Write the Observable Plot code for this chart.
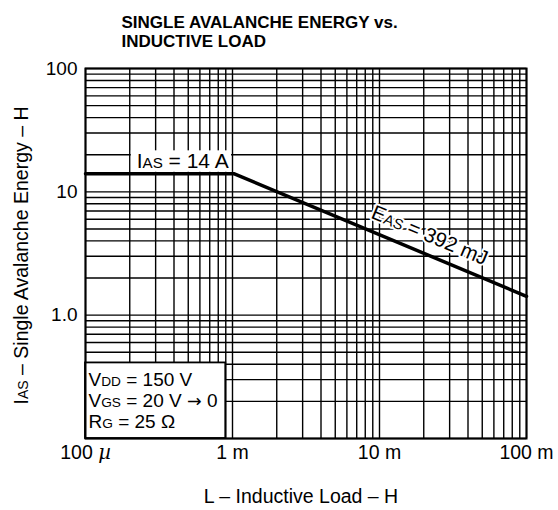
<!DOCTYPE html>
<html><head><meta charset="utf-8">
<script src="https://cdn.jsdelivr.net/npm/d3@7"></script>
<script src="https://cdn.jsdelivr.net/npm/@observablehq/plot@0.6"></script>
<style>body{margin:0;background:#fff}</style>
</head><body><div id="chart"></div>
<script>
// ---- data ----
const inductance = [1e-4, 1.03e-3, 1e-1];   // L (H)
const current = [14, 14, 1.42];            // IAS (A)
const xTickValues = [1e-4, 1e-3, 1e-2, 1e-1];
const xTickLabels = ["100 \u00b5", "1 m", "10 m", "100 m"];
const yTickValues = [1, 10, 100];
const yTickLabels = ["1.0", "10", "100"];
const gridMultiples = [1, 2, 3, 4, 5, 6, 7, 8, 9];
const xDecades = [1e-4, 1e-3, 1e-2];
const yDecades = [0.1, 1, 10];
const conditions = ["V_DD_ = 150 V", "V_GS_ = 20 V \u2192 0", "R_G_ = 25 \u03a9"];
const titleLines = ["SINGLE AVALANCHE ENERGY vs.", "INDUCTIVE LOAD"];
const xLabel = "L \u2013 Inductive Load \u2013 H";
const yLabel = "I_AS_ \u2013 Single Avalanche Energy \u2013 H";
const iasLabel = "I_AS_ = 14 A";
const easLabel = "E_AS_ = 392 mJ";
// annotation anchors (data coordinates)
const condBox = [{x1: 1e-4, x2: 9e-4, y1: 0.1, y2: 0.41}];
const iasBox = [{x1: 2.05e-4, x2: 0.985e-3, y1: 14.4, y2: 21.5}];
const iasAnchor = [{x: 2e-4, y: 14}];
const easAnchor = [{x: 0.0195, y: 3.22}];

const xGrid = xDecades.flatMap(d => gridMultiples.map(m => d * m)).concat([1e-1]);
const yGrid = yDecades.flatMap(d => gridMultiples.map(m => d * m)).concat([100]);
const rows = inductance.map((x, i) => ({x, y: current[i]}));

const FONT = "Liberation Sans, Arial, Helvetica, sans-serif";
const fs = 19;

const chart = Plot.plot({
  width: 558,
  height: 510,
  marginLeft: 85,
  marginRight: 32,
  marginTop: 68,
  marginBottom: 72,
  style: {fontFamily: FONT, background: "white"},
  x: {type: "log", domain: [1e-4, 1e-1], axis: null},
  y: {type: "log", domain: [0.1, 100], axis: null},
  marks: [
    Plot.ruleX(xGrid, {stroke: "black", strokeWidth: 1.4}),
    Plot.ruleY(yGrid, {stroke: "black", strokeWidth: 1.4}),
    Plot.rect(condBox, {x1: "x1", x2: "x2", y1: "y1", y2: "y2", fill: "white", stroke: "black", strokeWidth: 1.8}),
    Plot.rect(iasBox, {x1: "x1", x2: "x2", y1: "y1", y2: "y2", fill: "white"}),
    Plot.line(rows, {x: "x", y: "y", stroke: "black", strokeWidth: 3.5}),
    Plot.frame({stroke: "black", strokeWidth: 2}),
    // x tick labels
    Plot.text(xTickValues, {x: d => d, frameAnchor: "bottom", lineAnchor: "top", dy: 7,
      text: (d, i) => xTickLabels[i], fontSize: 19.5, fill: "black", fontFamily: FONT, className: "subs"}),
    // y tick labels
    Plot.text(yTickValues, {y: d => d, frameAnchor: "left", textAnchor: "end", lineAnchor: "middle", dx: -8,
      text: (d, i) => yTickLabels[i], fontSize: fs, fill: "black", fontFamily: FONT}),
    // conditions
    ...conditions.map((c, i) => Plot.text([c], {text: d => d, frameAnchor: "bottom-left", textAnchor: "start",
      lineAnchor: "bottom", dx: 3, dy: [-53, -31.5, -10.5][i], fontSize: fs, fill: "black", fontFamily: FONT, className: "subs"})),
    // IAS label
    Plot.text(iasAnchor, {x: "x", y: "y", text: () => iasLabel, textAnchor: "start", lineAnchor: "bottom",
      dx: 7, dy: -6, fontSize: 21, fill: "black", fontFamily: FONT, className: "subs"}),
    // EAS label
    Plot.text(easAnchor, {x: "x", y: "y", text: () => easLabel, textAnchor: "middle", lineAnchor: "bottom",
      rotate: 22.7, dx: 5, dy: -11, fontSize: 20.5, fill: "black", stroke: "white", strokeWidth: 4,
      paintOrder: "stroke", fontFamily: FONT, className: "subs"}),
    // title
    ...titleLines.map((t, i) => Plot.text([t], {text: d => d, frameAnchor: "top-left", textAnchor: "start",
      lineAnchor: "bottom", dx: 36, dy: [-41, -21.5][i], fontSize: 17, fontWeight: "bold", fill: "black", fontFamily: FONT})),
    // axis labels
    Plot.text([xLabel], {text: d => d, frameAnchor: "bottom", textAnchor: "middle", lineAnchor: "bottom",
      dx: -5, dy: 64, fontSize: 19.5, fill: "black", fontFamily: FONT}),
    Plot.text([yLabel], {text: d => d, frameAnchor: "left", textAnchor: "middle", lineAnchor: "bottom",
      rotate: -90, dx: -58, dy: 2, fontSize: 19.5, fill: "black", fontFamily: FONT, className: "subs"})
  ]
});

// subscripts (marked _.._) -> smaller tspans on the baseline; arrow and mu glyph styling
d3.select(chart).selectAll("g.subs text").each(function() {
  const t = this.textContent;
  const parts = t.split(/(_[^_]+_|\u2192|\u00b5)/).filter(s => s.length);
  const sel = d3.select(this);
  sel.text(null);
  parts.forEach(p => {
    if (p.length > 2 && p.startsWith("_") && p.endsWith("_")) {
      sel.append("tspan").attr("font-size", "72%").text(p.slice(1, -1));
    } else if (p === "\u2192") {
      sel.append("tspan").attr("font-family", "DejaVu Sans").attr("font-size", "92%").text(p);
    } else if (p === "\u00b5") {
      sel.append("tspan").attr("font-style", "italic").attr("font-family", "DejaVu Serif").text(p);
    } else {
      sel.append("tspan").text(p);
    }
  });
});

document.getElementById("chart").appendChild(chart);
</script>
</body></html>
